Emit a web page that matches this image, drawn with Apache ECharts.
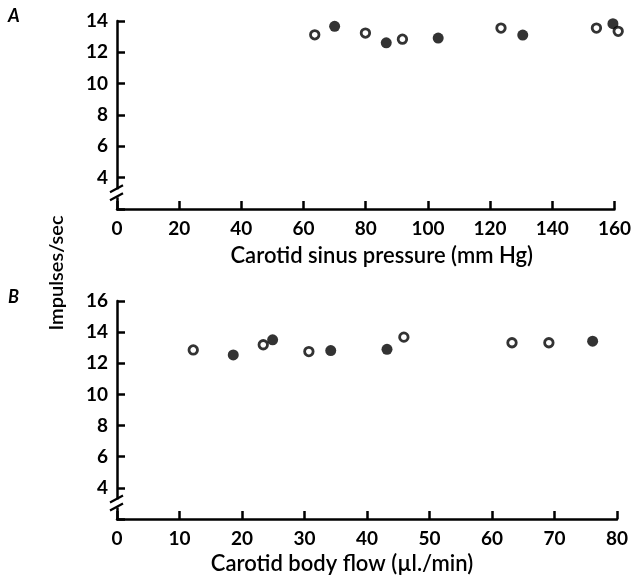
<!DOCTYPE html>
<html>
<head>
<meta charset="utf-8">
<script src="https://cdn.jsdelivr.net/npm/echarts@6/dist/echarts.min.js"></script>
<style>
html,body{margin:0;padding:0;background:#fff;}
#c{width:634px;height:580px;}
</style>
</head>
<body>
<div id="c"></div>
<script>
// Panel A: carotid sinus pressure (mm Hg) vs impulses/sec
const pressureFilledX = [70.0, 86.6, 103.3, 130.5, 159.5];
const pressureFilledY = [13.66, 12.61, 12.91, 13.10, 13.83];
const pressureOpenX = [63.6, 79.9, 91.8, 123.5, 154.2, 161.2];
const pressureOpenY = [13.12, 13.23, 12.84, 13.55, 13.55, 13.34];
// Panel B: carotid body flow (µl./min) vs impulses/sec
const flowFilledX = [18.6, 24.9, 34.2, 43.2, 76.1];
const flowFilledY = [12.54, 13.51, 12.82, 12.90, 13.42];
const flowOpenX = [12.2, 23.4, 30.7, 45.9, 63.2, 69.1];
const flowOpenY = [12.86, 13.19, 12.75, 13.68, 13.32, 13.32];

const xTicksA = [0, 160, 20];   // min, max, interval
const xTicksB = [0, 80, 10];
const yTicksA = [2, 14, 2];
const yTicksB = [2, 16, 2];

const pairs = (xs, ys) => xs.map((x, i) => [x, ys[i]]);

const FONT = 'Lato';
const INK = '#000';

function xAxisCfg(grid, t, name, pad, gap) {
  return {
    type: 'value', gridIndex: grid, min: t[0], max: t[1], interval: t[2],
    splitLine: {show: false},
    axisLine: {show: true, onZero: false, lineStyle: {color: INK, width: 2.5}},
    axisTick: {show: true, inside: true, length: 8, lineStyle: {color: INK, width: 2.5}},
    axisLabel: {color: INK, fontFamily: FONT, fontWeight: 'bold', fontSize: 19, margin: 10},
    name: name, nameLocation: 'middle', nameGap: gap,
    nameTextStyle: {color: INK, fontFamily: FONT, fontWeight: 600, fontSize: 22, padding: pad}
  };
}
function yAxisCfg(grid, t) {
  return {
    type: 'value', gridIndex: grid, min: t[0], max: t[1], interval: t[2],
    splitLine: {show: false},
    axisLine: {show: true, onZero: false, lineStyle: {color: INK, width: 2.5}},
    axisTick: {show: true, inside: true, length: 8, lineStyle: {color: INK, width: 2.5}},
    axisLabel: {color: INK, fontFamily: FONT, fontWeight: 'bold', fontSize: 19, margin: 9,
      formatter: v => (v === t[0] ? '' : String(v))}
  };
}
const openStyle = {color: '#fff', borderColor: INK, borderWidth: 2.8};
const filledStyle = {color: INK, borderColor: INK, borderWidth: 0};

const chart = echarts.init(document.getElementById('c'), null, {renderer: 'canvas'});
chart.setOption({
  animation: false,
  backgroundColor: '#fff',
  grid: [
    {left: 117, right: 18, top: 21, height: 188},
    {left: 117, right: 17, top: 301, height: 218}
  ],
  xAxis: [
    xAxisCfg(0, xTicksA, 'Carotid sinus pressure (mm Hg)', [0, 0, 0, 32], 36),
    xAxisCfg(1, xTicksB, 'Carotid body flow (\u00b5l./min)', [0, 50, 0, 0], 34)
  ],
  yAxis: [yAxisCfg(0, yTicksA), yAxisCfg(1, yTicksB)],
  series: [
    {type: 'scatter', xAxisIndex: 0, yAxisIndex: 0, clip: false, symbol: 'circle', symbolSize: 11,
     itemStyle: filledStyle, data: pairs(pressureFilledX, pressureFilledY)},
    {type: 'scatter', xAxisIndex: 0, yAxisIndex: 0, clip: false, symbol: 'circle', symbolSize: 8.5,
     itemStyle: openStyle, data: pairs(pressureOpenX, pressureOpenY)},
    {type: 'scatter', xAxisIndex: 1, yAxisIndex: 1, clip: false, symbol: 'circle', symbolSize: 11,
     itemStyle: filledStyle, data: pairs(flowFilledX, flowFilledY)},
    {type: 'scatter', xAxisIndex: 1, yAxisIndex: 1, clip: false, symbol: 'circle', symbolSize: 8.5,
     itemStyle: openStyle, data: pairs(flowOpenX, flowOpenY)}
  ]
});

// axis breaks, panel letters and shared y-axis title
function breakMark(gridIndex) {
  const p = chart.convertToPixel({gridIndex: gridIndex}, [0, 3]);
  const x = p[0], y = p[1];
  return [
    {type: 'rect', shape: {x: x - 3, y: y - 4, width: 6, height: 8}, style: {fill: '#fff'}, z: 100},
    {type: 'line', shape: {x1: x - 7, y1: y - 1, x2: x + 6, y2: y - 8}, style: {stroke: INK, lineWidth: 2.2}, z: 101},
    {type: 'line', shape: {x1: x - 7, y1: y + 7, x2: x + 6, y2: y}, style: {stroke: INK, lineWidth: 2.2}, z: 101}
  ];
}
const pA = chart.convertToPixel({gridIndex: 0}, [0, 2]);
const pB = chart.convertToPixel({gridIndex: 1}, [0, 16]);
chart.setOption({
  graphic: [
    ...breakMark(0), ...breakMark(1),
    {type: 'text', left: 8, top: 7, style: {text: 'A', font: 'italic bold 18px ' + FONT, fill: INK}},
    {type: 'text', left: 8, top: 288, style: {text: 'B', font: 'italic bold 18px ' + FONT, fill: INK}},
    {type: 'text', x: 57, y: (pA[1] + pB[1]) / 2 + 18, rotation: Math.PI / 2,
     style: {text: 'Impulses/sec', font: '600 20px ' + FONT, fill: INK, align: 'center', verticalAlign: 'middle'}}
  ]
});
</script>
</body>
</html>
